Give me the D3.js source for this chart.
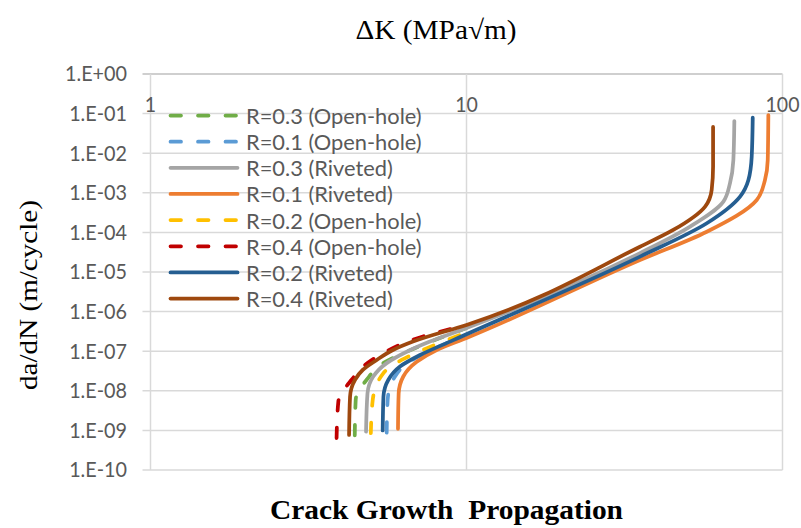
<!DOCTYPE html>
<html>
<head>
<meta charset="utf-8">
<script src="https://cdn.jsdelivr.net/npm/d3@7"></script>
<style>
  html, body { margin: 0; padding: 0; background: #ffffff; }
  svg { display: block; }
</style>
</head>
<body>
<svg id="chart" width="801" height="528"></svg>
<script>
// Crack growth rate curves: each point is [ΔK (MPa√m), da/dN (m/cycle)], lowest rate first
const r03OpenHole = [[4.43, 7.5e-10], [4.46, 5.9e-9], [4.83, 1.9e-8], [5.5, 5.2e-8], [6.47, 9.7e-8], [10, 3.85e-7]];
const r01OpenHole = [[5.59, 8.8e-10], [5.63, 5.9e-9], [5.94, 2.3e-8], [6.47, 4.9e-8], [7.4, 9.0e-8], [9.08, 1.9e-7]];
const r03Riveted  = [[4.81, 9.3e-10], [4.86, 8.6e-9], [5.07, 2.3e-8], [5.59, 5.0e-8], [6.47, 9.7e-8], [7.66, 1.75e-7],
                     [10, 3.85e-7], [35.4, 3.0e-5], [51.0, 1.4e-4], [65.0, 6.0e-4], [68.2, 1.75e-3], [69.9, 6.7e-3], [70.4, 0.065]];
const r01Riveted  = [[6.07, 1.1e-9], [6.10, 8.6e-9], [6.31, 2.3e-8], [6.96, 5.4e-8], [8.05, 1.07e-7], [10, 2.15e-7],
                     [35.4, 2.0e-5], [57.6, 1.04e-4], [82.9, 6.6e-4], [88.0, 2.1e-3], [89.8, 6.7e-3], [90.2, 0.092]];
const r02OpenHole = [[4.98, 8.5e-10], [5.05, 5.9e-9], [5.46, 2.8e-8], [6.23, 6.0e-8], [7.13, 1.0e-7], [10, 3.0e-7]];
const r04OpenHole = [[3.88, 6.4e-10], [3.93, 5.3e-9], [4.33, 1.9e-8], [4.86, 5.0e-8], [5.6, 1.0e-7], [6.7, 1.9e-7], [10, 4.6e-7]];
const r02Riveted  = [[5.43, 1.0e-9], [5.46, 7.1e-9], [5.66, 1.9e-8], [6.16, 4.1e-8], [7.13, 8.0e-8], [9.08, 1.9e-7],
                     [35.4, 2.45e-5], [57.6, 1.7e-4], [73.4, 8.0e-4], [78.0, 2.1e-3], [79.9, 8.2e-3], [80.5, 0.079]];
const r04Riveted  = [[4.25, 7.7e-10], [4.28, 7.0e-9], [4.44, 1.9e-8], [4.70, 3.4e-8], [5.20, 6.0e-8], [5.85, 1.07e-7],
                     [6.77, 1.75e-7], [10, 4.6e-7], [35.4, 4.35e-5], [45.1, 1.15e-4], [56.9, 4.5e-4], [59.7, 1.2e-3],
                     [60.3, 4.6e-3], [60.3, 0.046]];

// Series in drawing / legend order
const seriesNames  = ["R=0.3 (Open-hole)", "R=0.1 (Open-hole)", "R=0.3 (Riveted)", "R=0.1 (Riveted)",
                      "R=0.2 (Open-hole)", "R=0.4 (Open-hole)", "R=0.2 (Riveted)", "R=0.4 (Riveted)"];
const seriesData   = [r03OpenHole, r01OpenHole, r03Riveted, r01Riveted, r02OpenHole, r04OpenHole, r02Riveted, r04Riveted];
const seriesColors = ["#70ad47", "#5b9bd5", "#a5a5a5", "#ed7d31", "#ffc000", "#c00000", "#255e91", "#9e480e"];
const seriesDashed = [true, true, false, false, true, true, false, false];

const xTickValues = [1, 10, 100];
const xTickLabels = ["1", "10", "100"];
const yTickValues = [1, 1e-1, 1e-2, 1e-3, 1e-4, 1e-5, 1e-6, 1e-7, 1e-8, 1e-9, 1e-10];
const yTickLabels = ["1.E+00", "1.E-01", "1.E-02", "1.E-03", "1.E-04", "1.E-05",
                     "1.E-06", "1.E-07", "1.E-08", "1.E-09", "1.E-10"];

const topTitle = "ΔK (MPa√m)";
const yTitle = "da/dN (m/cycle)";
const bottomTitle = "Crack Growth  Propagation";

const svg = d3.select("#chart");
const plot = { left: 150.5, right: 782.5, top: 74, bottom: 470 };

const x = d3.scaleLog().domain([1, 100]).range([plot.left, plot.right]);
const y = d3.scaleLog().domain([1e-10, 1]).range([plot.bottom, plot.top]);

const sansFont = "Lato, 'Noto Sans', sans-serif";
const serifFont = "'Liberation Serif', 'Times New Roman', serif";
const labelColor = "#595959";

// stretch or squeeze a text element to a given width
function fitWidth(sel, width) {
  sel.attr("textLength", width).attr("lengthAdjust", "spacingAndGlyphs");
}

// Horizontal gridlines (with the small stubs left of the value axis)
const grid = svg.append("g");
grid.selectAll("line.h")
  .data(yTickValues)
  .join("line")
  .attr("x1", plot.left - 8)
  .attr("x2", plot.right)
  .attr("y1", d => y(d))
  .attr("y2", d => y(d))
  .attr("stroke", (d) => d === 1 ? "#bfbfbf" : "#d9d9d9")
  .attr("stroke-width", 1.5);

// Vertical gridlines at the decades and the value axis line
grid.selectAll("line.v")
  .data(xTickValues)
  .join("line")
  .attr("x1", d => x(d))
  .attr("x2", d => x(d))
  .attr("y1", plot.top)
  .attr("y2", plot.bottom)
  .attr("stroke", "#d9d9d9")
  .attr("stroke-width", 1.5);

// Y tick labels
const yLabels = svg.append("g")
  .selectAll("text")
  .data(yTickValues)
  .join("text")
  .attr("x", 127)
  .attr("y", d => y(d) + 7.3)
  .attr("text-anchor", "end")
  .attr("font-family", sansFont)
  .attr("font-size", 20.5)
  .attr("fill", labelColor)
  .text((d, i) => yTickLabels[i]);
{
  const ref = yLabels.nodes()[0].getComputedTextLength();
  const k = 62 / ref;
  yLabels.each(function () { fitWidth(d3.select(this), this.getComputedTextLength() * k); });
}

// X tick labels (log axis placed along the top of the plot)
const xLabels = svg.append("g")
  .selectAll("text")
  .data(xTickValues)
  .join("text")
  .attr("x", d => x(d))
  .attr("y", 111.5)
  .attr("text-anchor", "middle")
  .attr("font-family", sansFont)
  .attr("font-size", 20.5)
  .attr("fill", labelColor)
  .text((d, i) => xTickLabels[i]);
{
  const ref = xLabels.nodes()[2].getComputedTextLength();
  const k = 34 / ref;
  xLabels.each(function () { fitWidth(d3.select(this), this.getComputedTextLength() * k); });
}

// Curves
const line = d3.line()
  .x(d => x(d[0]))
  .y(d => y(d[1]))
  .curve(d3.curveMonotoneY);

const curves = svg.append("g");
seriesData.forEach((pts, i) => {
  curves.append("path")
    .attr("d", line(pts))
    .attr("fill", "none")
    .attr("stroke", seriesColors[i])
    .attr("stroke-width", 3.75)
    .attr("stroke-linecap", "round")
    .attr("stroke-linejoin", "round")
    .attr("stroke-dasharray", seriesDashed[i] ? "10.5,17" : null);
});

// Legend
const legend = svg.append("g");
const legendTop = 115.5, legendStep = 26.15;
const legendTexts = [];
seriesNames.forEach((name, i) => {
  const ly = legendTop + i * legendStep;
  legend.append("line")
    .attr("x1", 170.5).attr("x2", 237.5)
    .attr("y1", ly).attr("y2", ly)
    .attr("stroke", seriesColors[i])
    .attr("stroke-width", 3.75)
    .attr("stroke-linecap", "round")
    .attr("stroke-dasharray", seriesDashed[i] ? "10.5,17" : null);
  const t = legend.append("text")
    .attr("x", 246)
    .attr("y", ly + 8.4)
    .attr("font-family", sansFont)
    .attr("font-size", 21)
    .attr("fill", labelColor)
    .text(name);
  legendTexts.push(t);
});
{
  const k = 175.7 / legendTexts[0].node().getComputedTextLength();
  legendTexts.forEach(t => fitWidth(t, t.node().getComputedTextLength() * k));
}

// Axis titles
svg.append("text")
  .attr("x", 436)
  .attr("y", 39)
  .attr("text-anchor", "middle")
  .attr("font-family", serifFont)
  .attr("font-size", 27)
  .attr("fill", "#000")
  .text(topTitle)
  .call(fitWidth, 161);

svg.append("text")
  .attr("transform", "translate(37,295) rotate(-90)")
  .attr("text-anchor", "middle")
  .attr("font-family", serifFont)
  .attr("font-size", 26)
  .attr("fill", "#000")
  .text(yTitle)
  .call(fitWidth, 190);

svg.append("text")
  .attr("x", 446.5)
  .attr("y", 519)
  .attr("text-anchor", "middle")
  .attr("font-family", serifFont)
  .attr("font-weight", "bold")
  .attr("font-size", 28)
  .attr("fill", "#000")
  .style("white-space", "pre")
  .text(bottomTitle)
  .call(fitWidth, 353);
</script>
</body>
</html>
